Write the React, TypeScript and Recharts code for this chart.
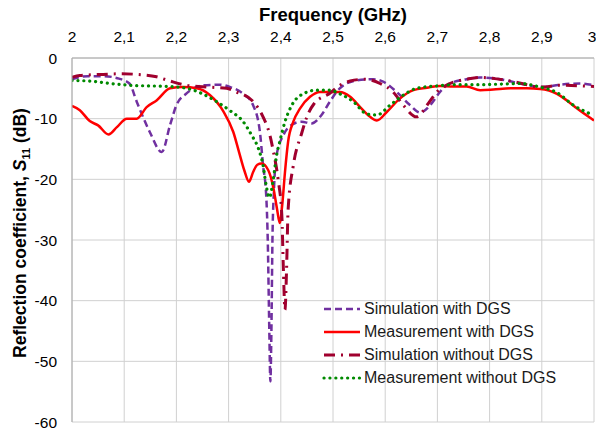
import { CartesianGrid, Legend, Line, LineChart, XAxis, YAxis } from 'recharts';

// frequencies (GHz) and S11 (dB) for each curve
const simDgsF = [2.0, 2.03, 2.06, 2.09, 2.11, 2.124, 2.149, 2.172, 2.188, 2.2, 2.22, 2.252, 2.284, 2.303, 2.328, 2.347, 2.36, 2.366, 2.372, 2.375, 2.378, 2.38, 2.382, 2.384, 2.387, 2.392, 2.405, 2.421, 2.44, 2.459, 2.478, 2.494, 2.513, 2.545, 2.577, 2.596, 2.622, 2.648, 2.667, 2.686, 2.705, 2.724, 2.756, 2.782, 2.82, 2.858, 2.902, 2.935, 2.973, 3.0];
const simDgsDb = [-3.5, -3.0, -3.0, -3.4, -4.2, -7.2, -12.2, -15.5, -11, -7.8, -5.8, -4.5, -4.4, -4.8, -5.9, -7.8, -12.2, -17.7, -22.6, -30, -45, -53.3, -45, -30, -21.5, -16, -12.7, -11, -10.5, -10.8, -9.4, -7.2, -5, -3.7, -3.5, -3.9, -5.6, -7.8, -9, -7.8, -5.6, -4.2, -3.5, -3.2, -3.5, -4.2, -4.8, -4.4, -4.2, -4.5];

const measDgsF = [2.0, 2.015, 2.034, 2.05, 2.07, 2.086, 2.105, 2.124, 2.143, 2.162, 2.188, 2.213, 2.239, 2.264, 2.29, 2.309, 2.32, 2.33, 2.339, 2.347, 2.355, 2.363, 2.376, 2.386, 2.393, 2.398, 2.403, 2.408, 2.414, 2.424, 2.437, 2.456, 2.475, 2.513, 2.533, 2.552, 2.571, 2.584, 2.603, 2.628, 2.654, 2.68, 2.705, 2.73, 2.756, 2.782, 2.807, 2.839, 2.871, 2.897, 2.929, 2.948, 2.967, 3.0];
const measDgsDb = [-7.9, -8.6, -10.4, -11.1, -12.6, -11.4, -10, -10, -8.1, -7, -5, -4.8, -5, -6.1, -8.8, -12.2, -15.5, -18.5, -20.4, -18.8, -17.6, -17.4, -18.5, -21.5, -25, -27.2, -24, -18.8, -13.8, -10.5, -8.3, -6.4, -5.6, -5.6, -6.4, -8.1, -9.7, -10.3, -8.9, -6.7, -5.3, -4.9, -4.6, -4.7, -4.7, -5.3, -5.2, -5.0, -5.0, -5.1, -5.9, -7, -8.3, -10.3];

const simNoDgsF = [2.0, 2.015, 2.06, 2.092, 2.124, 2.162, 2.188, 2.22, 2.264, 2.296, 2.315, 2.347, 2.366, 2.379, 2.386, 2.395, 2.402, 2.405, 2.408, 2.411, 2.414, 2.424, 2.44, 2.45, 2.464, 2.494, 2.513, 2.533, 2.56, 2.59, 2.615, 2.635, 2.66, 2.68, 2.699, 2.724, 2.756, 2.78, 2.81, 2.846, 2.9, 2.935, 3.0];
const simNoDgsDb = [-3.2, -2.9, -2.7, -2.6, -2.7, -3.1, -3.8, -4.5, -4.8, -5.0, -5.6, -7.2, -9.7, -12.7, -15.5, -20.1, -26, -35, -41.5, -35, -25, -17.7, -12.4, -9.7, -7.5, -5.8, -4.5, -3.8, -3.5, -4.2, -5.6, -7.8, -9.7, -7.8, -5.6, -4.2, -3.5, -3.2, -3.4, -3.9, -4.8, -4.5, -4.7];

const measNoDgsF = [2.0, 2.034, 2.073, 2.111, 2.149, 2.188, 2.22, 2.25, 2.277, 2.303, 2.328, 2.344, 2.357, 2.366, 2.372, 2.378, 2.385, 2.392, 2.398, 2.408, 2.421, 2.443, 2.469, 2.494, 2.513, 2.539, 2.564, 2.584, 2.609, 2.635, 2.66, 2.7, 2.737, 2.78, 2.82, 2.858, 2.897, 2.929, 2.961, 2.995];
const measNoDgsDb = [-3.7, -3.8, -4.2, -4.5, -4.6, -4.7, -5.0, -5.9, -7.2, -8.7, -10.5, -12.7, -14.9, -17.7, -21, -23, -20.4, -16, -13.8, -10.5, -7.8, -5.9, -5.3, -5.3, -5.9, -7.2, -9.2, -9.4, -7.8, -6.1, -5.0, -4.6, -4.4, -4.4, -4.3, -4.2, -4.8, -5.7, -7.8, -9.3];

const xTicks = [2, 2.1, 2.2, 2.3, 2.4, 2.5, 2.6, 2.7, 2.8, 2.9, 3];
const yTicks = [-60, -50, -40, -30, -20, -10, 0];

const toPoints = (f: number[], db: number[]) => f.map((x, i) => ({ f: x, db: db[i] }));

const DOTS = '0.1 5.8';

const series = [
  { name: 'Simulation with DGS', data: toPoints(simDgsF, simDgsDb), color: '#7030A0', dash: '7 4', width: 2.5 },
  { name: 'Measurement with DGS', data: toPoints(measDgsF, measDgsDb), color: '#FF0000', dash: undefined, width: 2.5 },
  { name: 'Simulation without DGS', data: toPoints(simNoDgsF, simNoDgsDb), color: '#A0002E', dash: '11 6 2 6', width: 3 },
  { name: 'Measurement without DGS', data: toPoints(measNoDgsF, measNoDgsDb), color: '#008A00', dash: DOTS, width: 3.2 },
];

const FONT = '"Liberation Sans", Arial, sans-serif';

const fmtFreq = (v: number) => (Number.isInteger(v) ? String(v) : v.toFixed(1).replace('.', ','));

const renderLegend = () => (
  <div style={{ fontFamily: FONT, fontSize: 16, color: '#1a1a1a' }}>
    {series.map((s) => (
      <div key={s.name} style={{ display: 'flex', alignItems: 'center', height: 23 }}>
        <svg width={40} height={10} style={{ marginRight: 2 }}>
          <line
            x1={2}
            x2={38}
            y1={5}
            y2={5}
            stroke={s.color}
            strokeWidth={s.width}
            strokeDasharray={s.dash}
            strokeLinecap={s.dash === DOTS ? 'round' : 'butt'}
          />
        </svg>
        <span>{s.name}</span>
      </div>
    ))}
  </div>
);

const YLabel = () => (
  <text
    x={26}
    y={233}
    transform="rotate(-90 26 233)"
    textAnchor="middle"
    fontFamily={FONT}
    fontSize={17.5}
    fontWeight="bold"
    fill="#000"
  >
    Reflection coefficient, <tspan fontStyle="italic">S</tspan>
    <tspan fontSize={11} dy={4}>11</tspan>
    <tspan dy={-4}> (dB)</tspan>
  </text>
);

const XLabel = () => (
  <text x={333} y={21} textAnchor="middle" fontFamily={FONT} fontSize={18.5} fontWeight="bold" fill="#000">
    Frequency (GHz)
  </text>
);

export default function App() {
  return (
    <div style={{ position: 'absolute', left: 0, top: 0, width: 596, height: 436, background: '#fff' }}>
      <LineChart width={596} height={436} margin={{ top: 0, right: 2, bottom: 14, left: 0 }}>
        <CartesianGrid stroke="#d0d0d0" />
        <XAxis
          type="number"
          dataKey="f"
          orientation="top"
          domain={[2, 3]}
          ticks={xTicks}
          tickFormatter={fmtFreq}
          height={58}
          tickLine={false}
          tickMargin={10}
          axisLine={{ stroke: '#aaa' }}
          tick={{ fill: '#000', fontSize: 15.5, fontFamily: FONT }}
          label={{ content: () => <XLabel /> }}
          allowDataOverflow
        />
        <YAxis
          type="number"
          domain={[-60, 0]}
          ticks={yTicks}
          width={72}
          tickLine={false}
          tickMargin={9}
          axisLine={{ stroke: '#aaa' }}
          tick={{ fill: '#000', fontSize: 15.5, fontFamily: FONT }}
          label={{ content: () => <YLabel /> }}
        />
        <Legend
          layout="vertical"
          align="center"
          verticalAlign="middle"
          content={renderLegend}
          wrapperStyle={{ left: 322, top: 297, width: 250 }}
        />
        {series.map((s) => (
          <Line
            key={s.name}
            data={s.data}
            dataKey="db"
            name={s.name}
            type="monotone"
            stroke={s.color}
            strokeWidth={s.width}
            strokeDasharray={s.dash}
            strokeLinecap={s.dash === DOTS ? 'round' : 'butt'}
            dot={false}
            activeDot={false}
            isAnimationActive={false}
          />
        ))}
      </LineChart>
    </div>
  );
}
